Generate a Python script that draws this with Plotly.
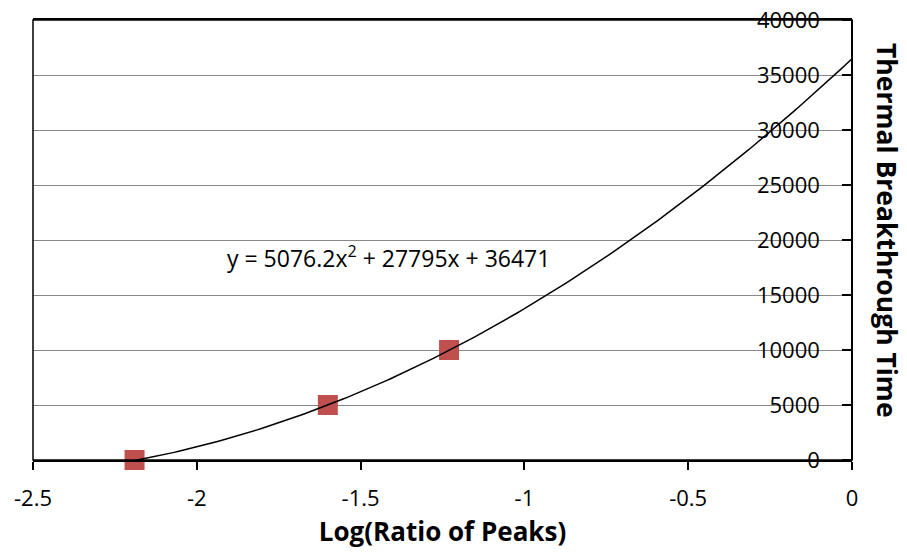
import numpy as np
import plotly.graph_objects as go

# Data points
log_ratio = [-2.19, -1.60, -1.23]
breakthrough = [0, 5000, 10000]

# Trendline coefficients (as printed on chart)
coef_a, coef_b, coef_c = 5076.2, 27795, 36471
trend_x_start, trend_x_end = -2.19, 0.0

x_ticks = [-2.5, -2, -1.5, -1, -0.5, 0]
x_tick_labels = ["-2.5", "-2", "-1.5", "-1", "-0.5", "0"]
y_ticks = [0, 5000, 10000, 15000, 20000, 25000, 30000, 35000, 40000]
y_tick_labels = [str(v) for v in y_ticks]

tx = np.linspace(trend_x_start, trend_x_end, 200)
ty = coef_a * tx**2 + coef_b * tx + coef_c

FONT = "Open Sans"

fig = go.Figure()
fig.add_trace(go.Scatter(x=log_ratio, y=breakthrough, mode="markers",
                         marker=dict(symbol="square", size=20, color="#C0504D",
                                     line=dict(width=0)),
                         showlegend=False, cliponaxis=False))
fig.add_trace(go.Scatter(x=tx, y=ty, mode="lines",
                         line=dict(color="black", width=1.5),
                         showlegend=False, cliponaxis=False))

fig.update_layout(
    width=899, height=549,
    margin=dict(l=25, r=55, t=12, b=97),
    paper_bgcolor="white", plot_bgcolor="white",
    font=dict(family=FONT, size=22, color="black"),
    xaxis=dict(range=[-2.5, 0], tickvals=x_ticks, ticktext=x_tick_labels,
               ticks="outside", ticklen=8, tickcolor="black", tickwidth=1.5,
               ticklabelstandoff=10, ticklabeloverflow="allow",
               showline=True, linecolor="black", linewidth=1.5, mirror=True,
               showgrid=False, zeroline=False, automargin=False,
               title=dict(text="<b>Log(Ratio of Peaks)</b>", font=dict(size=26, family=FONT),
                          standoff=12)),
    yaxis=dict(range=[0, 40000], tickvals=y_ticks, ticktext=y_tick_labels,
               side="left", anchor="free", position=1.0,
               ticks="outside", ticklen=9, tickcolor="black", tickwidth=1.5,
               ticklabelstandoff=18, ticklabeloverflow="allow",
               showline=True, linecolor="black", linewidth=1.5,
               showgrid=True, gridcolor="#888888", gridwidth=1.2,
               zeroline=False, automargin=False),
    shapes=[dict(type="rect", xref="paper", yref="paper", x0=0, x1=1, y0=0, y1=1,
                 line=dict(color="black", width=1.5), layer="above")],
    annotations=[
        dict(text="y = 5076.2x<sup>2</sup> + 27795x + 36471", x=-1.416, y=18450,
             xref="x", yref="y", showarrow=False,
             font=dict(size=23, family=FONT)),
        dict(text="<b>Thermal Breakthrough Time</b>", textangle=90,
             x=1.0, xref="paper", xanchor="center", xshift=35,
             y=0.5, yref="paper", yanchor="middle", yshift=10, showarrow=False,
             font=dict(size=26.5, family=FONT)),
    ],
)

fig.write_html("out.html")
